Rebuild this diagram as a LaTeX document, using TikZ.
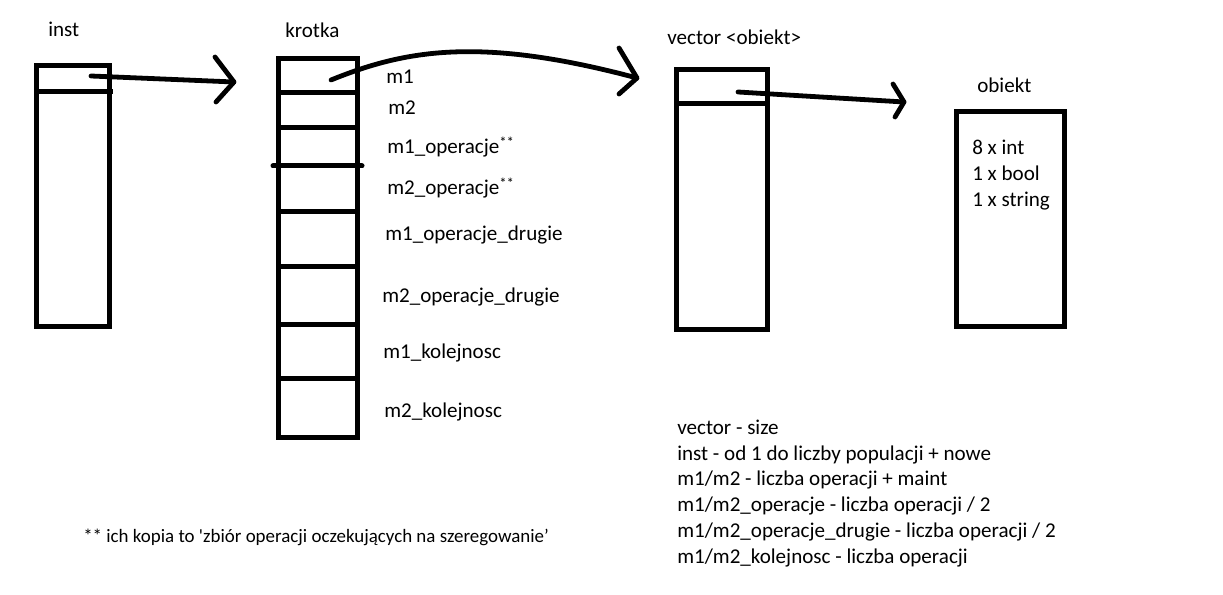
\documentclass[tikz,border=0pt]{standalone}
\usepackage{fontspec}
\setmainfont{Carlito}
\newfontfamily\rawcarlito{Carlito}[Ligatures=TeXOff]
\begin{document}
\begin{tikzpicture}[x=0.75pt,y=-0.75pt,
  box/.style={draw=black,line width=3.75pt,inner sep=0pt,fill=none},
  cell/.style={line width=3.75pt},
  arr/.style={line width=3.6pt,line cap=round,line join=round},
  lbl/.style={anchor=base west,inner sep=0pt,font=\fontsize{15.8}{18}\selectfont},
  foot/.style={anchor=base west,inner sep=0pt,font=\fontsize{14.2}{17}\selectfont},
]
\useasboundingbox (0,0) rectangle (1223,595);

% boxes
\node[box,minimum width=73*0.75pt,minimum height=261*0.75pt] (inst) at (73,196) {};
\node[box,minimum width=79*0.75pt,minimum height=378*0.75pt] (krotka) at (318,248) {};
\node[box,minimum width=90.5*0.75pt,minimum height=259*0.75pt] (vec) at (722,199.5) {};
\node[box,minimum width=108*0.75pt,minimum height=214*0.75pt] (obj) at (1010,219) {};

% titles
\node[lbl] (tinst) at (48,37) {inst};
\node[lbl] (tkrotka) at (285,38) {krotka};
\node[lbl] (tvec) at (667,45) {vector <obiekt>};
\node[lbl] (tobj) at (977,93) {obiekt};

% cell lines
\draw[cell] (34,92) -- (113,92);
\draw[cell] (vec.west |- 0,104) -- (770,104);
\foreach \yy in {93,128,212,266,324,378}
  \draw[cell] (krotka.west |- 0,\yy) -- (krotka.east |- 0,\yy);
\draw[cell,line cap=round] (273,166) -- (362,166);

% krotka labels
\node[lbl] (m1) at (386,84) {m1};
\node[lbl] (m2) at (388,115) {m2};
\node[lbl] (m1op) at (387,154) {m1\_operacje\textsuperscript{**}};
\node[lbl] (m2op) at (387,195) {m2\_operacje\textsuperscript{**}};
\node[lbl] (m1dr) at (385,240) {m1\_operacje\_drugie};
\node[lbl] (m2dr) at (382,302) {m2\_operacje\_drugie};
\node[lbl] (m1ko) at (383,358) {m1\_kolejnosc};
\node[lbl] (m2ko) at (384,417) {m2\_kolejnosc};

% obiekt contents
\node[lbl] (o1) at (972,155) {8 x int};
\node[lbl] (o2) at (972,181) {1 x bool};
\node[lbl] (o3) at (972,207) {1 x string};

% notes
\node[lbl] (n1) at (677,434) {vector - size};
\node[lbl] (n2) at (677,460) {inst - od 1 do liczby populacji + nowe};
\node[lbl] (n3) at (677,485.5) {m1/m2 - liczba operacji + maint};
\node[lbl] (n4) at (677,511.5) {m1/m2\_operacje - liczba operacji / 2};
\node[lbl] (n5) at (677,537.5) {m1/m2\_operacje\_drugie - liczba operacji / 2};
\node[lbl] (n6) at (677,563) {m1/m2\_kolejnosc - liczba operacji};
\node[foot] (fn) at (83,542) {** ich kopia to {\rawcarlito '}zbiór operacji oczekujących na szeregowanie’};

% arrow coordinates
\coordinate (a1s) at (91,76);
\coordinate (a1e) at (234,82);
\coordinate (a2s) at (331,80);
\coordinate (a2e) at (637,78);
\coordinate (a3s) at (738,92);
\coordinate (a3e) at (904,102);

% arrows
\draw[arr] (a1s) -- (a1e);
\draw[arr] (215,57) -- (a1e) -- (216,102);
\draw[arr] (a2s) .. controls (405,50) and (480,36) .. (a2e);
\draw[arr] (619,48) -- (a2e) -- (619,94);
\draw[arr] (a3s) -- (a3e);
\draw[arr] (893,84) -- (a3e) -- (895,117);
\end{tikzpicture}
\end{document}
